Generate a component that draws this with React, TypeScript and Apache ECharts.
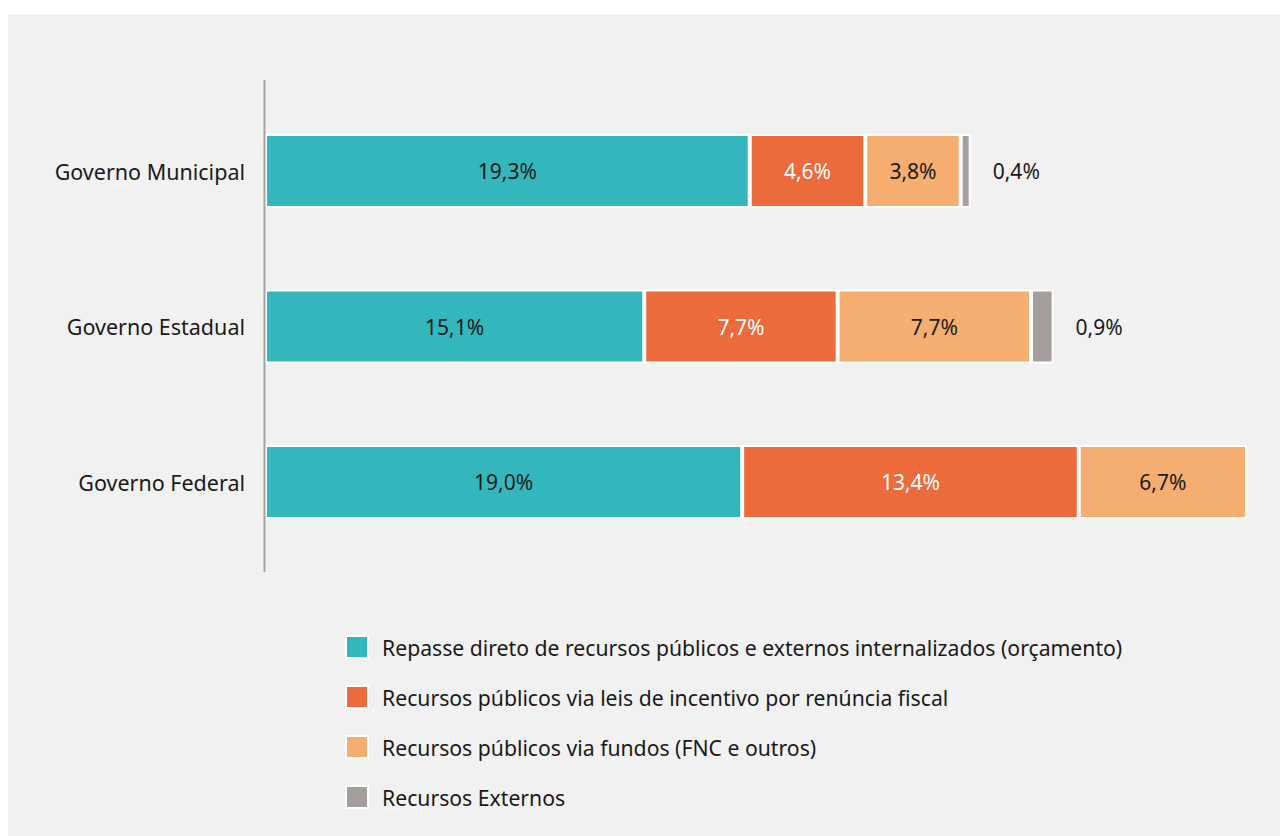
import React, { useEffect, useRef } from "react";
import * as echarts from "echarts";

const categories = ["Governo Municipal", "Governo Estadual", "Governo Federal"];
const seriesNames = [
  "Repasse direto de recursos públicos e externos internalizados (orçamento)",
  "Recursos públicos via leis de incentivo por renúncia fiscal",
  "Recursos públicos via fundos (FNC e outros)",
  "Recursos Externos",
];
const repasseDireto = [19.3, 15.1, 19.0];
const leisIncentivo = [4.6, 7.7, 13.4];
const fundos = [3.8, 7.7, 6.7];
const externos: (number | null)[] = [0.4, 0.9, null];

const colors = ["#33b7bd", "#ec6a3b", "#f5ad70", "#a69e9c"];
const labelColors = ["#1a1a1a", "#ffffff", "#1a1a1a", "#1a1a1a"];
const FONT = "'Noto Sans', sans-serif";

const fmt = (v: any) => {
  const n = typeof v === "number" ? v : v?.value;
  if (n === null || n === undefined || n === 0) return "";
  return n.toFixed(1).replace(".", ",") + "%";
};

export default function App() {
  const ref = useRef<HTMLDivElement>(null);
  useEffect(() => {
    if (!ref.current) return;
    const chart = echarts.init(ref.current, null, { renderer: "svg" });
    const allData = [repasseDireto, leisIncentivo, fundos, externos];
    chart.setOption({
      animation: false,
      backgroundColor: "#f1f1f1",
      grid: { left: 257, right: 10.4, top: 79.25, bottom: 276.25, containLabel: false },
      xAxis: {
        type: "value",
        min: 0,
        max: 40,
        show: false,
      },
      yAxis: {
        type: "category",
        data: categories,
        inverse: true,
        axisLine: { show: false },
        axisTick: { show: false },
        axisLabel: {
          margin: 20,
          fontFamily: FONT,
          fontSize: 21.5,
          color: "#1a1a1a",
        },
      },
      legend: {
        orient: "vertical",
        left: 332,
        top: 616,
        itemWidth: 22,
        itemHeight: 22,
        itemGap: 26,
        icon: "rect",
        itemStyle: { borderColor: "#ffffff", borderWidth: 2 },
        textStyle: {
          fontFamily: FONT,
          fontSize: 21.2,
          color: "#1a1a1a",
          lineHeight: 22,
          padding: [0, 0, 0, 9],
        },
        data: seriesNames,
      },
      graphic: [
        {
          type: "line",
          z: 100,
          shape: { x1: 256.5, y1: 66, x2: 256.5, y2: 558 },
          style: { stroke: "#a3a3a3", lineWidth: 2 },
        },
      ],
      series: seriesNames.map((name, i) => ({
        name,
        type: "bar",
        stack: "total",
        barWidth: 74,
        data: allData[i],
        itemStyle: { color: colors[i], borderColor: "#ffffff", borderWidth: 2 },
        label: {
          show: true,
          position: i === 3 ? "right" : "inside",
          distance: 22,
          formatter: (p: any) => fmt(p.value),
          fontFamily: FONT,
          fontSize: 21,
          color: labelColors[i],
        },
      })),
    });
    return () => chart.dispose();
  }, []);
  return (
    <div
      ref={ref}
      style={{ position: "absolute", left: 8, top: 14, width: 1272, height: 822 }}
    />
  );
}
